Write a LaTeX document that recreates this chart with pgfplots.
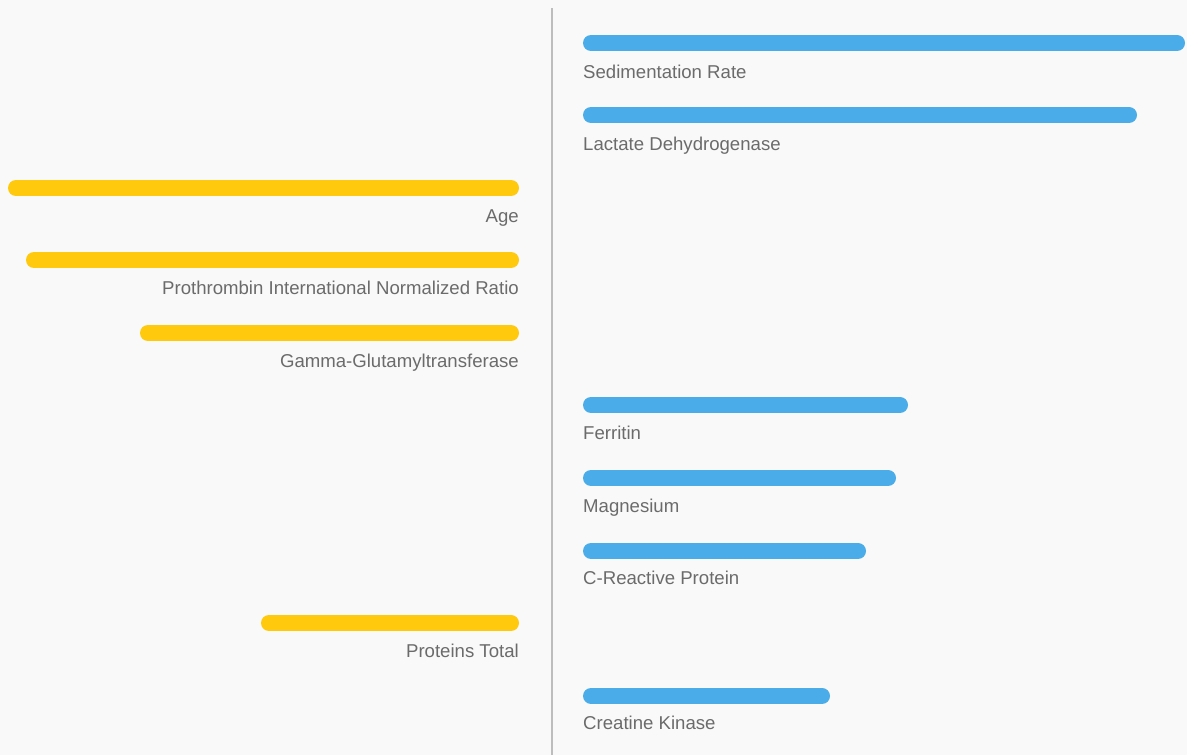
\documentclass[border=0pt]{standalone}
\usepackage{pgfplots}
\pgfplotsset{compat=1.18}
\usepackage{fontspec}
\setmainfont{Liberation Sans}
\definecolor{bg}{HTML}{F9F9F9}
\definecolor{barblue}{HTML}{4AADE9}
\definecolor{baryel}{HTML}{FFC90E}
\definecolor{txt}{HTML}{6B6B6B}
\definecolor{axisline}{HTML}{BDBDBD}
\begin{document}
\begin{tikzpicture}
\begin{axis}[
  width=1187pt, height=755pt, scale only axis,
  xmin=-552, xmax=635, ymin=0, ymax=755, y dir=reverse,
  hide axis, clip=false,
  every axis plot/.append style={line width=16pt, line cap=round},
]
\fill[bg] (axis cs:-552,0) rectangle (axis cs:635,755);
\draw[axisline, line width=1.5pt] (axis cs:0,8) -- (axis cs:0,755);
% blue bars (positive side)
\addplot[barblue] coordinates {(39,43) (625,43)};
\addplot[barblue] coordinates {(39,115) (577,115)};
\addplot[barblue] coordinates {(39,405) (348,405)};
\addplot[barblue] coordinates {(39,478) (336,478)};
\addplot[barblue] coordinates {(39,551) (306,551)};
\addplot[barblue] coordinates {(39,696) (270,696)};
% yellow bars (negative side)
\addplot[baryel] coordinates {(-41,188) (-536,188)};
\addplot[baryel] coordinates {(-41,260) (-518,260)};
\addplot[baryel] coordinates {(-41,333) (-404,333)};
\addplot[baryel] coordinates {(-41,623) (-283,623)};
\begin{scope}[every node/.style={text=txt, font=\fontsize{18.6}{22}\selectfont, inner sep=0pt}]
\node[anchor=base west] at (axis cs:31,79) {Sedimentation Rate};
\node[anchor=base west] at (axis cs:31,151) {Lactate Dehydrogenase};
\node[anchor=base east] at (axis cs:-33,223) {Age};
\node[anchor=base east] at (axis cs:-33,295) {Prothrombin International Normalized Ratio};
\node[anchor=base east] at (axis cs:-33,368) {Gamma-Glutamyltransferase};
\node[anchor=base west] at (axis cs:31,440) {Ferritin};
\node[anchor=base west] at (axis cs:31,513) {Magnesium};
\node[anchor=base west] at (axis cs:31,585) {C-Reactive Protein};
\node[anchor=base east] at (axis cs:-33,658) {Proteins Total};
\node[anchor=base west] at (axis cs:31,730) {Creatine Kinase};
\end{scope}
\end{axis}
\end{tikzpicture}
\end{document}
